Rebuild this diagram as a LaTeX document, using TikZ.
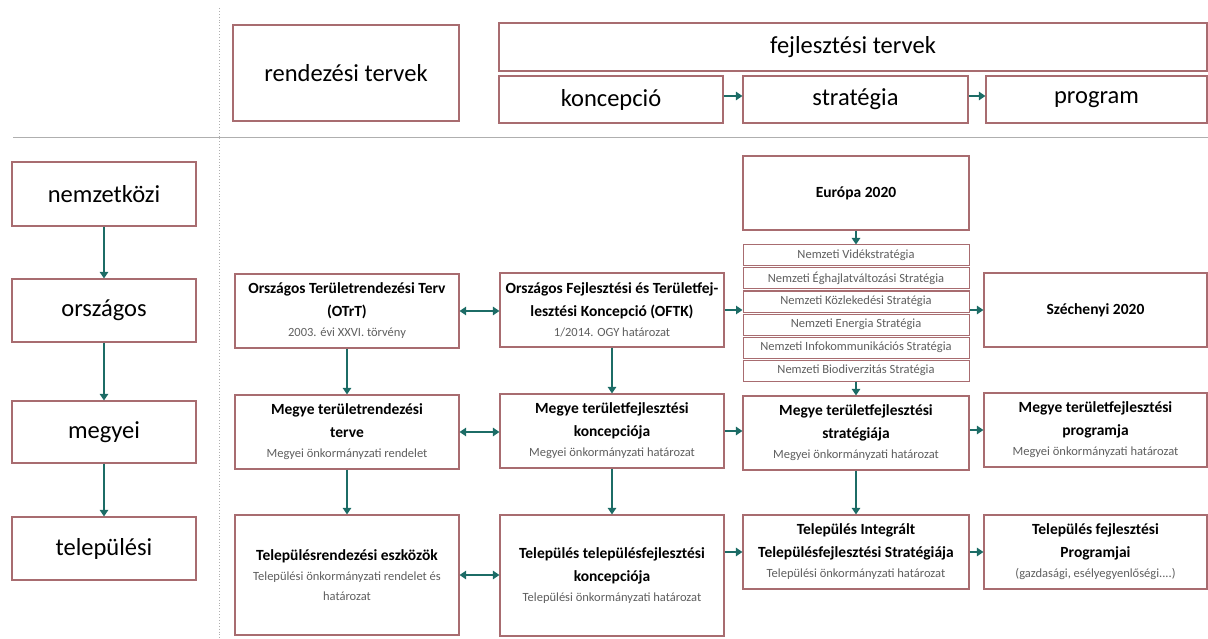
\documentclass[tikz,border=0pt]{standalone}
\usepackage{fontspec}
\setmainfont{Carlito}
\usetikzlibrary{arrows.meta}
\definecolor{bord}{RGB}{168,108,112}
\definecolor{tealc}{RGB}{28,108,102}
\definecolor{subc}{RGB}{95,95,95}
\definecolor{sepc}{RGB}{175,175,175}
\tikzset{
 box/.style={draw=bord, line width=1.2pt, inner sep=0pt, align=center, fill=white},
 big/.style={box, font=\fontsize{24.5}{28}\selectfont},
 mainb/.style={box, font=\fontsize{15.5}{23}\selectfont\bfseries},
 lst/.style={box, line width=1pt, font=\fontsize{12.5}{14}\selectfont\color{subc}},
 arr/.style={draw=tealc, line width=1.3pt, -{Triangle[length=6.5pt,width=8.5pt]}},
 darr/.style={draw=tealc, line width=1.3pt, {Triangle[length=6.5pt,width=8.5pt]}-{Triangle[length=6.5pt,width=8.5pt]}},
 sepline/.style={draw=sepc, line width=0.9pt},
}
\newcommand{\sm}[1]{{\fontsize{12.5}{20}\selectfont\mdseries\color{subc}#1}}
\newcommand{\B}[7]{\node[#1, minimum width={#5-#3}, minimum height={#6-#4}] (#2) at ({(#3+#5)/2},{(#4+#6)/2}) {#7};}
\begin{document}
\begin{tikzpicture}[x=1pt,y=-1pt]
\useasboundingbox (0,0) rectangle (1208,639);
% separators
\coordinate (h1) at (13,137); \coordinate (h2) at (1208,137);
\coordinate (v1) at (219,8); \coordinate (v2) at (219,639);
\draw[sepline] (h1) -- (h2);
\draw[sepline, dotted] (v1) -- (v2);
% header
\B{big}{rend}{233}{25}{459}{121}{rendezési tervek}
\B{big}{fejl}{499}{23}{1207}{71}{fejlesztési tervek}
\B{big}{konc}{499}{76}{723}{123}{koncepció}
\B{big}{strat}{743}{76}{968}{123}{stratégia}
\B{big}{prog}{986}{76}{1207}{123}{program}
% levels
\B{big}{nemz}{12}{162}{196}{226}{nemzetközi}
\B{big}{orsz}{12}{279}{196}{342}{országos}
\B{big}{megy}{12}{401}{196}{463}{megyei}
\B{big}{telep}{12}{517}{196}{580}{települési}
% column 1
\B{mainb}{otrt}{235}{274}{459}{348}{Országos Területrendezési Terv\\(OTrT)\\[-3pt]\sm{2003. évi XXVI. törvény}}
\B{mainb}{mtr}{235}{395}{459}{469}{Megye területrendezési\\terve\\[-3pt]\sm{Megyei önkormányzati rendelet}}
\B{mainb}{tre}{235}{515}{459}{635}{Településrendezési eszközök\\[-3pt]\sm{Települési önkormányzati rendelet és}\\[-3pt]\sm{határozat}}
% column 2
\B{mainb}{oftk}{500}{273}{724}{347}{Országos Fejlesztési és Területfej-\\lesztési Koncepció (OFTK)\\[-3pt]\sm{1/2014. OGY határozat}}
\B{mainb}{mkon}{500}{394}{724}{468}{Megye területfejlesztési\\koncepciója\\[-3pt]\sm{Megyei önkormányzati határozat}}
\B{mainb}{tkon}{500}{515}{724}{636}{Település településfejlesztési\\koncepciója\\[-3pt]\sm{Települési önkormányzati határozat}}
% column 3
\B{mainb}{eur}{743}{156}{969}{230}{Európa 2020}
\B{lst}{l1}{743}{245}{969}{266}{Nemzeti Vidékstratégia}
\B{lst}{l2}{743}{268}{969}{289}{Nemzeti Éghajlatváltozási Stratégia}
\B{lst}{l3}{743}{291}{969}{312}{Nemzeti Közlekedési Stratégia}
\B{lst}{l4}{743}{314}{969}{335}{Nemzeti Energia Stratégia}
\B{lst}{l5}{743}{337}{969}{358}{Nemzeti Infokommunikációs Stratégia}
\B{lst}{l6}{743}{360}{969}{381}{Nemzeti Biodiverzitás Stratégia}
\B{mainb}{mstr}{743}{396}{969}{470}{Megye területfejlesztési\\stratégiája\\[-3pt]\sm{Megyei önkormányzati határozat}}
\B{mainb}{tis}{743}{515}{969}{589}{Település Integrált\\Településfejlesztési Stratégiája\\[-3pt]\sm{Települési önkormányzati határozat}}
% column 4
\B{mainb}{sze}{984}{273}{1207}{347}{Széchenyi 2020}
\B{mainb}{mprog}{984}{393}{1207}{467}{Megye területfejlesztési\\programja\\[-3pt]\sm{Megyei önkormányzati határozat}}
\B{mainb}{tprog}{984}{515}{1207}{589}{Település fejlesztési\\Programjai\\[-3pt]\sm{(gazdasági, esélyegyenlőségi....)}}
% arrows header
\draw[arr] ([yshift=3.5pt]konc.east) -- ([yshift=3.5pt]strat.west);
\draw[arr] ([yshift=3.5pt]strat.east) -- ([yshift=3.5pt]prog.west);
% level arrows
\draw[arr] (nemz) -- (orsz);
\draw[arr] (orsz) -- (megy);
\draw[arr] (megy) -- (telep);
% grid arrows
\draw[darr] (otrt.east) -- (oftk.west |- otrt.east);
\draw[arr] (oftk.east) -- (l3.west |- oftk.east);
\draw[arr] (l3.east |- sze.west) -- (sze.west);
\draw[arr] (eur) -- (l1);
\draw[arr] (l6) -- (mstr);
\draw[arr] (otrt) -- (mtr);
\draw[arr] (mtr) -- (tre);
\draw[arr] (oftk) -- (mkon);
\draw[arr] (mkon) -- (tkon);
\draw[arr] (mstr) -- (tis);
\draw[darr] (mtr.east) -- (mkon.west |- mtr.east);
\draw[arr] (mkon.east) -- (mstr.west |- mkon.east);
\draw[arr] (mstr.east |- mprog.west) -- (mprog.west);
\draw[darr] (tre.east) -- (tkon.west |- tre.east);
\draw[arr] (tkon.east |- tis.west) -- (tis.west);
\draw[arr] (tis.east) -- (tprog.west);
\end{tikzpicture}
\end{document}
